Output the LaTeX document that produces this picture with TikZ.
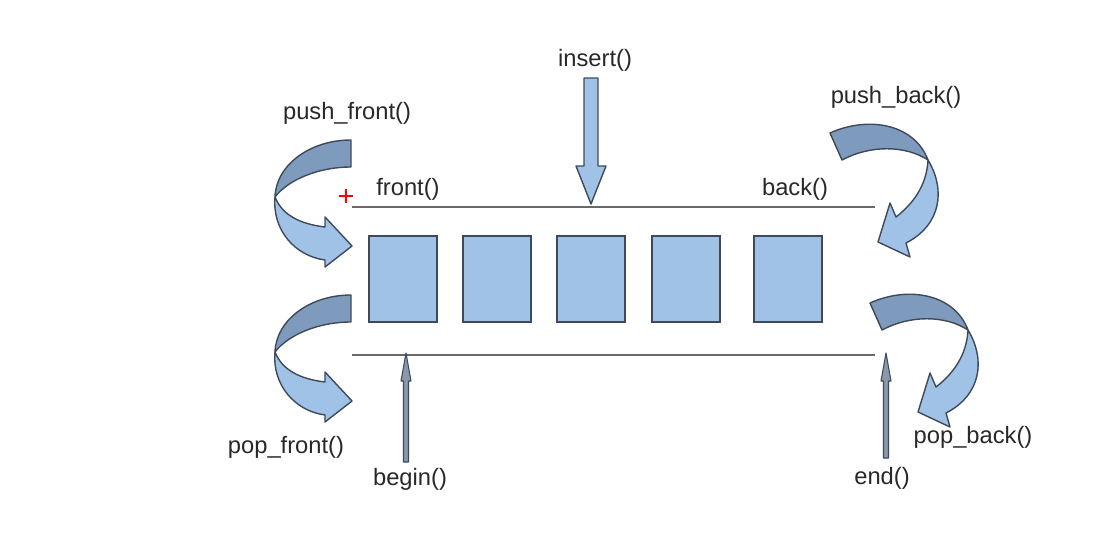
\documentclass[tikz,border=0pt]{standalone}
\usepackage{fontspec}
\setmainfont{Liberation Sans}
\usetikzlibrary{calc}
\definecolor{cellblue}{RGB}{160,194,230}
\definecolor{bandblue}{RGB}{126,155,190}
\definecolor{edgegray}{RGB}{62,74,90}
\definecolor{linegray}{RGB}{105,105,105}
\definecolor{stemgray}{RGB}{140,152,172}
\definecolor{textgray}{RGB}{40,40,40}
\tikzset{
  cell/.style={draw=edgegray, fill=cellblue, line width=1.5pt, minimum width=1.36cm, minimum height=1.72cm, inner sep=0pt},
  fnlabel/.style={font=\fontsize{13.5}{16}\selectfont, text=textgray, inner sep=1pt},
  band/.style={draw=edgegray, line width=0.8pt, line join=round},
  rail/.style={draw=linegray, line width=1pt},
}
\newcommand{\leftcurl}[1]{%
  \begin{scope}[shift={(0,#1)}]
    \filldraw[band, fill=bandblue] (351,140) .. controls (310,140) and (276,165) .. (275,197)
      .. controls (288,180) and (318,167) .. (351,167) -- cycle;
    \filldraw[band, fill=cellblue] (275,197) .. controls (272,230) and (295,256) .. (325,260)
      -- (325,267) -- (352,246) -- (325,217) -- (325,227)
      .. controls (300,224) and (282,215) .. (275,197) -- cycle;
  \end{scope}}
\newcommand{\rightcurl}[2]{%
  \begin{scope}[shift={(#1,#2)}]
    \filldraw[band, fill=bandblue] (830,133) .. controls (870,115) and (915,125) .. (928,160)
      .. controls (905,145) and (870,145) .. (842,160) -- cycle;
    \filldraw[band, fill=cellblue] (928,160) .. controls (946,190) and (941,225) .. (906,243)
      -- (910,257) -- (878,242) -- (890,203) -- (896,217)
      .. controls (918,200) and (927,180) .. (928,160) -- cycle;
  \end{scope}}
\newcommand{\stemarrow}[2]{%
  \filldraw[fill=stemgray, draw=edgegray, line width=0.6pt, line join=round]
    ($(#2)+(-2.5,0)$) -- ($(#1)+(-2.5,28)$) -- ($(#1)+(-5,28)$) -- (#1)
    -- ($(#1)+(5,28)$) -- ($(#1)+(2.5,28)$) -- ($(#2)+(2.5,0)$) -- cycle;}

\begin{document}
\begin{tikzpicture}[x=0.02cm, y=-0.02cm]
  \useasboundingbox (0,0) rectangle (1114,548);

  \coordinate (topL) at (352,207);
  \coordinate (topR) at (875,207);
  \coordinate (botL) at (352,355);
  \coordinate (botR) at (875,355);
  \draw[rail] (topL) -- (topR);
  \draw[rail] (botL) -- (botR);

  \node[cell] (c1) at (403,279) {};
  \node[cell] (c2) at (497,279) {};
  \node[cell] (c3) at (591,279) {};
  \node[cell] (c4) at (686,279) {};
  \node[cell] (c5) at (788,279) {};

  \node[fnlabel] (front) at (408,189) {front()};
  \node[fnlabel] (back) at (795,189) {back()};
  \node[fnlabel] (insert) at (595,60) {insert()};
  \node[fnlabel] (pushfront) at (347,113) {push\_front()};
  \node[fnlabel] (pushback) at (896,97) {push\_back()};
  \node[fnlabel] (popfront) at (286,447) {pop\_front()};
  \node[fnlabel] (popback) at (973,437) {pop\_back()};
  \node[fnlabel] (begin) at (410,479) {begin()};
  \node[fnlabel] (end) at (882,478) {end()};

  \draw[red, line width=1.3pt] (339,196) -- (353,196) (346,189) -- (346,203);

  \coordinate (instail) at (591,78);
  \coordinate (instip) at (591,204);
  \filldraw[band, fill=cellblue] ($(instail)+(-7,0)$) -- ($(instip)+(-7,-38)$) -- ($(instip)+(-15,-38)$)
    -- (instip) -- ($(instip)+(15,-38)$) -- ($(instip)+(7,-38)$) -- ($(instail)+(7,0)$) -- cycle;

  \coordinate (begtip) at (406,353);
  \coordinate (begtail) at (406,462);
  \coordinate (endtip) at (886,353);
  \coordinate (endtail) at (886,458);
  \stemarrow{begtip}{begtail}
  \stemarrow{endtip}{endtail}

  \leftcurl{0}
  \leftcurl{155}
  \rightcurl{0}{0}
  \rightcurl{40}{170}
\end{tikzpicture}
\end{document}
